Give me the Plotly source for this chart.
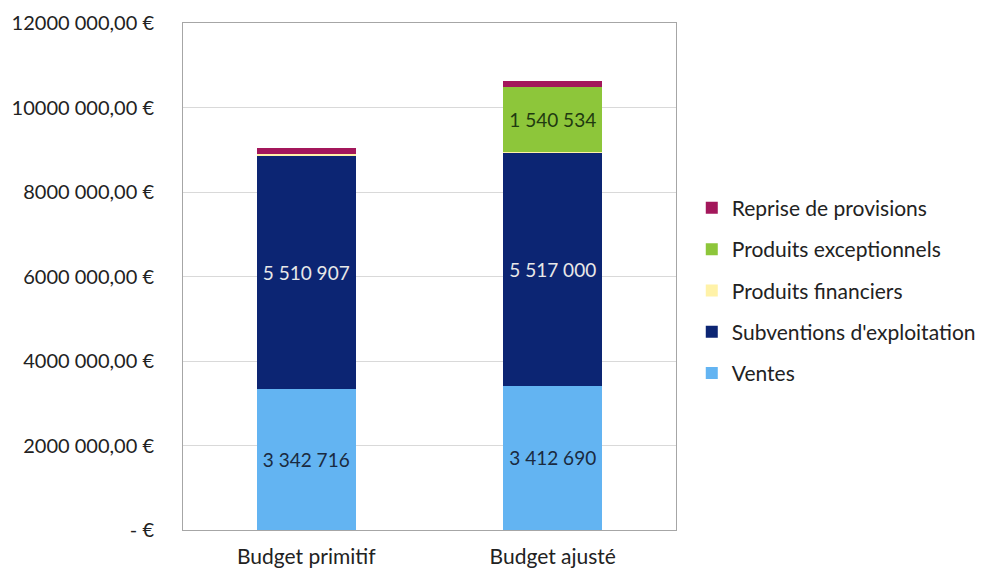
import plotly.graph_objects as go

categories = ["Budget primitif", "Budget ajusté"]
ventes = [3342716, 3412690]
subventions = [5510907, 5517000]
financiers = [45000, 20000]
exceptionnels = [0, 1540534]
reprise = [150000, 135000]

series_names = ["Ventes", "Subventions d'exploitation", "Produits financiers",
                "Produits exceptionnels", "Reprise de provisions"]
tick_values = [0, 2000000, 4000000, 6000000, 8000000, 10000000, 12000000]
tick_labels = ["- €", "2000 000,00 €", "4000 000,00 €", "6000 000,00 €",
               "8000 000,00 €", "10000 000,00 €", "12000 000,00 €"]

colors = ["#63B4F2", "#0C2573", "#FFF2A8", "#8DC63A", "#A3175B"]
label_colors = ["#1a2a40", "#E8E8E8", "#333333", "#1f3a10", "#ffffff"]
show_labels = [True, True, False, True, False]

def fmt(v):
    return f"{v:,}".replace(",", " ")

fig = go.Figure()
for i, (name, vals) in enumerate(zip(series_names, [ventes, subventions, financiers, exceptionnels, reprise])):
    texts = [fmt(v) if (show_labels[i] and v > 0) else "" for v in vals]
    fig.add_trace(go.Bar(
        x=categories, y=vals, name=name,
        marker=dict(color=colors[i], line=dict(width=0)),
        text=texts, textposition="inside", insidetextanchor="middle",
        textangle=0, constraintext="none",
        textfont=dict(size=19, color=label_colors[i], family="Lato"),
        legendgroup=name, legendrank=len(series_names) - i, hoverinfo="skip",
    ))

fig.update_layout(
    barmode="stack", bargap=0.6,
    width=976, height=560,
    margin=dict(l=175, r=308, t=15, b=38, autoexpand=False),
    paper_bgcolor="white", plot_bgcolor="white",
    font=dict(family="Lato", size=20, color="#222222"),
    uniformtext=dict(minsize=19, mode="show"),
    legend=dict(x=1.032, y=0.472, xanchor="left", yanchor="middle",
                traceorder="grouped", tracegroupgap=11,
                font=dict(size=21, color="#222222")),
    showlegend=True,
)
fig.update_yaxes(range=[0, 12000000], tickvals=tick_values, ticktext=tick_labels,
                 showgrid=True, gridcolor="#D9D9D9", gridwidth=1,
                 showline=True, linecolor="#A6A6A6", mirror=True,
                 ticks="", ticklabelstandoff=24, zeroline=False, automargin=False,
                 tickfont=dict(size=20, color="#222222"))
fig.update_xaxes(showline=True, linecolor="#A6A6A6", mirror=True, ticks="",
                 ticklabelstandoff=8, automargin=False,
                 tickfont=dict(size=21, color="#222222"))

fig.write_html("out.html")
